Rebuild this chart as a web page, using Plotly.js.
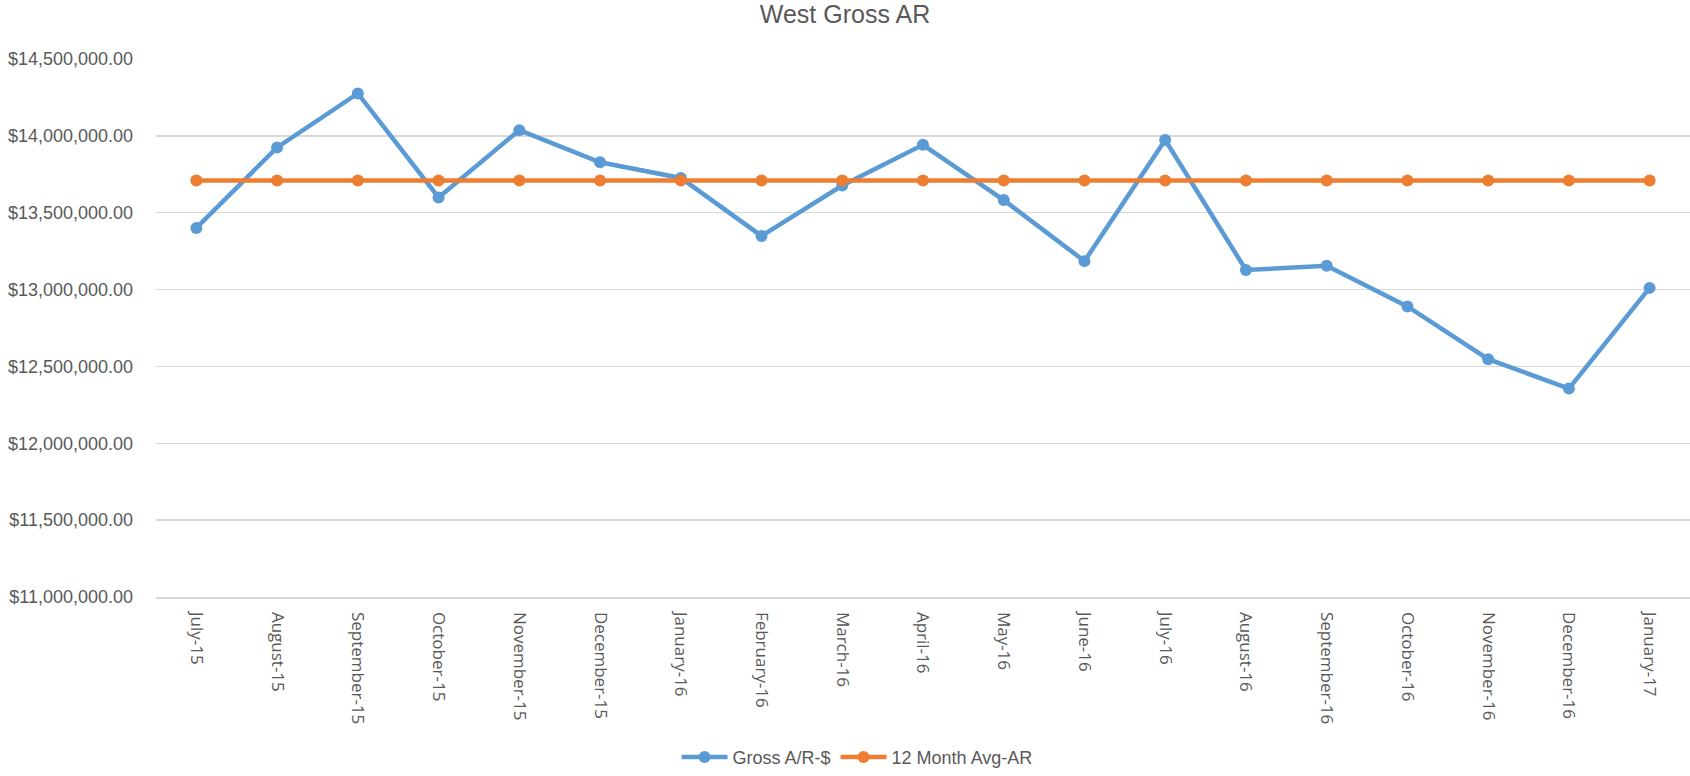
<!DOCTYPE html>
<html>
<head>
<meta charset="utf-8">
<script src="https://cdn.plot.ly/plotly-3.0.1.min.js"></script>
<style>html,body{margin:0;padding:0;background:#fff;}#chart{width:1690px;height:776px;}</style>
</head>
<body>
<div id="chart"></div>
<script>
const months = ["July-15","August-15","September-15","October-15","November-15","December-15","January-16","February-16","March-16","April-16","May-16","June-16","July-16","August-16","September-16","October-16","November-16","December-16","January-17"];
const grossAR = [13401000,13925000,14276000,13599000,14037000,13828000,13726000,13349000,13677000,13942000,13582000,13185000,13973000,13127000,13155000,12890000,12547000,12356000,13011000];
const avgAR = [13710000,13710000,13710000,13710000,13710000,13710000,13710000,13710000,13710000,13710000,13710000,13710000,13710000,13710000,13710000,13710000,13710000,13710000,13710000];
const seriesNames = ["Gross A/R-$","12 Month Avg-AR"];

const traces = [
  {x: months, y: grossAR, name: seriesNames[0], type: 'scatter', mode: 'lines+markers',
   line: {color: '#5B9BD5', width: 4.5}, marker: {color: '#5B9BD5', size: 12}},
  {x: months, y: avgAR, name: seriesNames[1], type: 'scatter', mode: 'lines+markers',
   line: {color: '#ED7D31', width: 4.5}, marker: {color: '#ED7D31', size: 12}}
];

const layout = {
  width: 1690, height: 776,
  margin: {l: 156, r: 0, t: 59, b: 174, pad: 0},
  paper_bgcolor: '#fff', plot_bgcolor: '#fff',
  title: {text: 'West Gross AR', x: 0.5, xref: 'container', xanchor: 'center', y: 0.981, yref: 'container', yanchor: 'middle',
          font: {family: 'Liberation Sans, Arial, sans-serif', size: 25, color: '#595959'}},
  showlegend: true,
  legend: {orientation: 'h', x: 0.457, xref: 'paper', xanchor: 'center', y: -0.298, yanchor: 'middle',
           font: {family: 'Liberation Sans, Arial, sans-serif', size: 18, color: '#595959'}, itemwidth: 46, traceorder: 'normal'},
  xaxis: {type: 'category', range: [-0.5, 18.5], showgrid: false, zeroline: false,
          showline: true, linecolor: '#D9D9D9', linewidth: 1.5,
          ticks: '', tickangle: 90, ticklabelstandoff: 10,
          tickfont: {family: 'Open Sans, sans-serif', size: 17, color: '#595959'}},
  yaxis: {range: [11000000, 14500000], dtick: 500000, tick0: 11000000, tickformat: '$,.2f',
          showgrid: true, gridcolor: '#D9D9D9', gridwidth: 1.5, zeroline: false, showline: false,
          ticks: '', ticklabelstandoff: 22,
          tickfont: {family: 'Liberation Sans, Arial, sans-serif', size: 18, color: '#595959'}},
  hovermode: false
};

Plotly.newPlot('chart', traces, layout, {displayModeBar: false, staticPlot: true});
</script>
</body>
</html>
